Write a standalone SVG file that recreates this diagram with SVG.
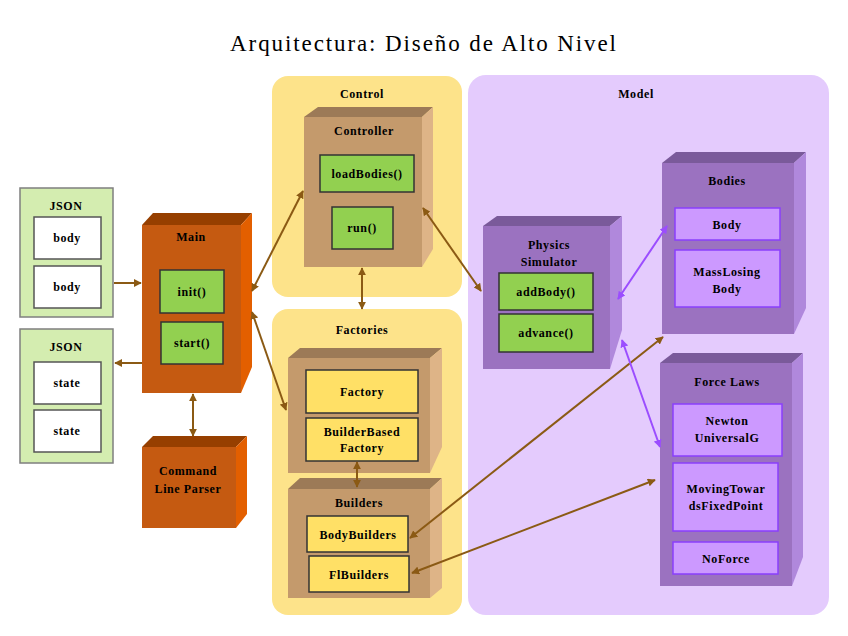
<svg xmlns="http://www.w3.org/2000/svg" width="848" height="636" viewBox="0 0 848 636">
<defs>
<marker id="ab" viewBox="0 0 10 10" refX="9" refY="5" markerWidth="8" markerHeight="8" markerUnits="userSpaceOnUse" orient="auto-start-reverse"><path d="M0,0 L10,5 L0,10 z" fill="#8b5a14"/></marker>
<marker id="ap" viewBox="0 0 10 10" refX="9" refY="5" markerWidth="8" markerHeight="8" markerUnits="userSpaceOnUse" orient="auto-start-reverse"><path d="M0,0 L10,5 L0,10 z" fill="#9b4dff"/></marker>
</defs>
<style>
text{font-family:"Liberation Serif","DejaVu Serif",serif;font-weight:bold;font-size:12px;text-anchor:middle;fill:#000;letter-spacing:0.6px}
.title{font-weight:normal;font-size:23px;letter-spacing:1.9px}
.cont-y{fill:#fde38a}
.cont-p{fill:#e4cbfd}
.json{fill:#d4edb0;stroke:#7f7f7f;stroke-width:1.5}
.white{fill:#fff;stroke:#555;stroke-width:1.5}
.green{fill:#92d050;stroke:#333;stroke-width:1.5}
.yel{fill:#ffe066;stroke:#333;stroke-width:1.5}
.pin{fill:#cc99ff;stroke:#8a3ffc;stroke-width:1.5}
.of{fill:#c55a11}.ot{fill:#963f00}.os{fill:#e35f00}
.tf{fill:#c49a6c}.tt{fill:#9c7a57}.ts{fill:#deb487}
.pf{fill:#9b72c0}.pt{fill:#7a5a9a}.ps{fill:#b088dc}
.cb{fill:none;stroke:#8b5a14;stroke-width:2;marker-end:url(#ab)}
.cb2{fill:none;stroke:#8b5a14;stroke-width:2;marker-end:url(#ab);marker-start:url(#ab)}
.cp2{fill:none;stroke:#9b4dff;stroke-width:2;marker-end:url(#ap);marker-start:url(#ap)}
</style>
<rect width="848" height="636" fill="#fff"/>
<text class="title" x="424" y="51">Arquitectura: Diseño de Alto Nivel</text>

<g id="control">
<rect class="cont-y" x="272" y="76" width="190" height="221" rx="16"/>
<text x="362" y="98">Control</text>
</g>
<g id="factories">
<rect class="cont-y" x="272" y="309" width="190" height="306" rx="16"/>
<text x="362" y="334">Factories</text>
</g>
<g id="model">
<rect class="cont-p" x="468" y="75" width="361" height="540" rx="18"/>
<text x="636" y="98">Model</text>
</g>

<g id="json-in">
<rect class="json" x="20" y="188" width="93" height="129"/>
<text x="66" y="210">JSON</text>
<rect class="white" x="34" y="217" width="67" height="42"/>
<text x="67" y="242">body</text>
<rect class="white" x="34" y="266" width="67" height="42"/>
<text x="67" y="291">body</text>
</g>
<g id="json-out">
<rect class="json" x="20" y="329" width="93" height="134"/>
<text x="66" y="351">JSON</text>
<rect class="white" x="34" y="362" width="67" height="42"/>
<text x="67" y="387">state</text>
<rect class="white" x="34" y="410" width="67" height="42"/>
<text x="67" y="435">state</text>
</g>

<g id="main">
<polygon class="ot" points="142,225 153,213 252,213 241,225"/>
<polygon class="os" points="241,225 252,213 252,367 241,393"/>
<rect class="of" x="142" y="225" width="99" height="168"/>
<text x="191" y="241">Main</text>
<rect class="green" x="160" y="270" width="64" height="43"/>
<text x="192" y="296">init()</text>
<rect class="green" x="161" y="322" width="62" height="42"/>
<text x="192" y="347">start()</text>
</g>

<g id="cmdparser">
<polygon class="ot" points="142,447 153,436 247,436 236,447"/>
<polygon class="os" points="236,447 247,436 247,514 236,528"/>
<rect class="of" x="142" y="447" width="94" height="81"/>
<text x="188" y="475">Command</text>
<text x="188" y="493">Line Parser</text>
</g>

<g id="controller">
<polygon class="tt" points="304,117 318,107 433,107 422,117"/>
<polygon class="ts" points="422,117 433,107 433,249 422,267"/>
<rect class="tf" x="304" y="117" width="118" height="150"/>
<text x="364" y="135">Controller</text>
<rect class="green" x="320" y="155" width="94" height="37"/>
<text x="367" y="178">loadBodies()</text>
<rect class="green" x="332" y="207" width="61" height="42"/>
<text x="362" y="232">run()</text>
</g>

<g id="factories-box">
<polygon class="tt" points="288,358 300,348 442,348 430,358"/>
<polygon class="ts" points="430,358 442,348 442,447 430,473"/>
<rect class="tf" x="288" y="358" width="142" height="115"/>
<rect class="yel" x="306" y="370" width="112" height="43"/>
<text x="362" y="396">Factory</text>
<rect class="yel" x="306" y="418" width="112" height="43"/>
<text x="362" y="436">BuilderBased</text>
<text x="362" y="452">Factory</text>
</g>

<g id="builders">
<polygon class="tt" points="288,489 300,478 442,478 430,489"/>
<polygon class="ts" points="430,489 442,478 442,588 430,598"/>
<rect class="tf" x="288" y="489" width="142" height="109"/>
<text x="359" y="507">Builders</text>
<rect class="yel" x="307" y="516" width="101" height="36"/>
<text x="358" y="539">BodyBuilders</text>
<rect class="yel" x="309" y="556" width="100" height="36"/>
<text x="359" y="579">FlBuilders</text>
</g>

<g id="physics">
<polygon class="pt" points="483,226 497,216 622,216 610,226"/>
<polygon class="ps" points="610,226 622,216 622,330 610,369"/>
<rect class="pf" x="483" y="226" width="127" height="143"/>
<text x="549" y="249">Physics</text>
<text x="549" y="266">Simulator</text>
<rect class="green" x="499" y="273" width="94" height="37"/>
<text x="546" y="296">addBody()</text>
<rect class="green" x="499" y="314" width="94" height="38"/>
<text x="546" y="337">advance()</text>
</g>

<g id="bodies">
<polygon class="pt" points="662,163 676,152 806,152 794,163"/>
<polygon class="ps" points="794,163 806,152 806,308 794,334"/>
<rect class="pf" x="662" y="163" width="132" height="171"/>
<text x="727" y="185">Bodies</text>
<rect class="pin" x="675" y="208" width="105" height="32"/>
<text x="727" y="229">Body</text>
<rect class="pin" x="675" y="250" width="105" height="57"/>
<text x="727" y="276">MassLosing</text>
<text x="727" y="293">Body</text>
</g>

<g id="forcelaws">
<polygon class="pt" points="660,363 673,353 803,353 792,363"/>
<polygon class="ps" points="792,363 803,353 803,557 792,586"/>
<rect class="pf" x="660" y="363" width="132" height="223"/>
<text x="727" y="386">Force Laws</text>
<rect class="pin" x="673" y="404" width="109" height="52"/>
<text x="727" y="425">Newton</text>
<text x="727" y="442">UniversalG</text>
<rect class="pin" x="673" y="463" width="105" height="68"/>
<text x="726" y="493">MovingTowar</text>
<text x="726" y="510">dsFixedPoint</text>
<rect class="pin" x="673" y="542" width="105" height="32"/>
<text x="726" y="563">NoForce</text>
</g>

<g id="connectors">
<path class="cb" d="M114,283 L141,283"/>
<path class="cb" d="M142,363 L115,363"/>
<path class="cb2" d="M193,394 L193,436"/>
<path class="cb2" d="M252,291 L303,191"/>
<path class="cb2" d="M252,312 L286,410"/>
<path class="cb2" d="M362,268 L362,309"/>
<path class="cb2" d="M423,208 L481,291"/>
<path class="cb2" d="M357,462 L357,487"/>
<path class="cb2" d="M663,337 L410,538"/>
<path class="cb2" d="M655,480 L412,573"/>
<path class="cp2" d="M618,299 L667,226"/>
<path class="cp2" d="M622,340 L660,447"/>
</g>
</svg>
